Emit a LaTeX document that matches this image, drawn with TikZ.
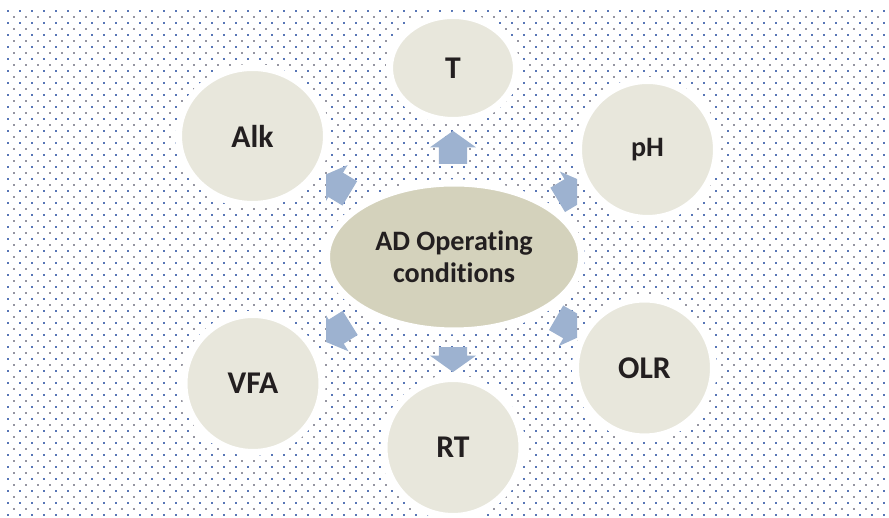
\documentclass[tikz,border=0pt]{standalone}
\usepackage{fontspec}
\setmainfont{Carlito}[Ligatures=NoCommon]
\usetikzlibrary{shapes.geometric,shapes.arrows}

\definecolor{paramfill}{RGB}{232,231,220}
\definecolor{hubfill}{RGB}{212,210,188}
\definecolor{arrowblue}{RGB}{157,178,208}
\definecolor{dotblue}{RGB}{88,118,182}
\definecolor{dotgray}{RGB}{150,150,162}
\definecolor{ink}{RGB}{35,31,32}

\begin{document}
\begin{tikzpicture}[
	param/.style={ellipse, fill=paramfill, draw=white, line width=2pt, inner sep=0pt, text=ink, font=\fontsize{9}{11}\selectfont\bfseries},
	hub/.style={ellipse, fill=hubfill, draw=white, line width=2pt, inner sep=0pt, align=center, text=ink, font=\fontsize{8}{9.1}\selectfont\bfseries},
	pusharrow/.style={single arrow, fill=arrowblue, inner xsep=0pt, inner ysep=0.135cm, minimum height=0.33cm, single arrow head extend=0.09cm, single arrow tip angle=109}
	]
	    
	    \useasboundingbox (0,0) rectangle (8.89,-5.18);
	    
	    % dotted backdrop
	    \foreach \r in {0,...,42}
	    	\foreach \c in {0,...,73}
	    	{
	    	\fill[dotblue] ({0.07+0.12*\c},{-0.10-0.12*\r}) rectangle +(0.019,-0.019);
	    	\fill[dotgray] ({0.13+0.12*\c},{-0.16-0.12*\r}) rectangle +(0.016,-0.016);
	    	}
	    
	    \begin{scope}
	    \clip (3.26,0) rectangle (5.77,-5.18);
	    \node[pusharrow, rotate=90] (toT) at (4.53,-1.525) {};
	    \node[pusharrow, rotate=-90, minimum height=0.25cm] (toRT) at (4.53,-3.545) {};
	    \node[pusharrow, rotate=149] (toAlk) at (3.40,-1.875) {};
	    \node[pusharrow, rotate=212] (toVFA) at (3.405,-3.29) {};
	    \node[pusharrow, rotate=31] (toPH) at (5.675,-1.94) {};
	    \node[pusharrow, rotate=-30] (toOLR) at (5.66,-3.235) {};
	    \end{scope}
	    
	    \node[hub, minimum width=2.55cm, minimum height=1.48cm] (ad) at (4.54,-2.57) {AD Operating\\conditions};
	    
	    \node[param, minimum width=1.27cm, minimum height=1.05cm] (T) at (4.53,-0.68) {T};
	    \node[param, minimum width=1.48cm, minimum height=1.37cm] (alk) at (2.525,-1.36) {Alk};
	    \node[param, minimum size=1.38cm, font=\fontsize{8}{10}\selectfont\bfseries] (ph) at (6.475,-1.495) {pH};
	    \node[param, minimum size=1.38cm] (olr) at (6.445,-3.68) {OLR};
	    \node[param, minimum size=1.38cm] (vfa) at (2.53,-3.835) {VFA};
	    \node[param, minimum size=1.38cm] (rt) at (4.53,-4.475) {RT};
	    
\end{tikzpicture}
\end{document}
